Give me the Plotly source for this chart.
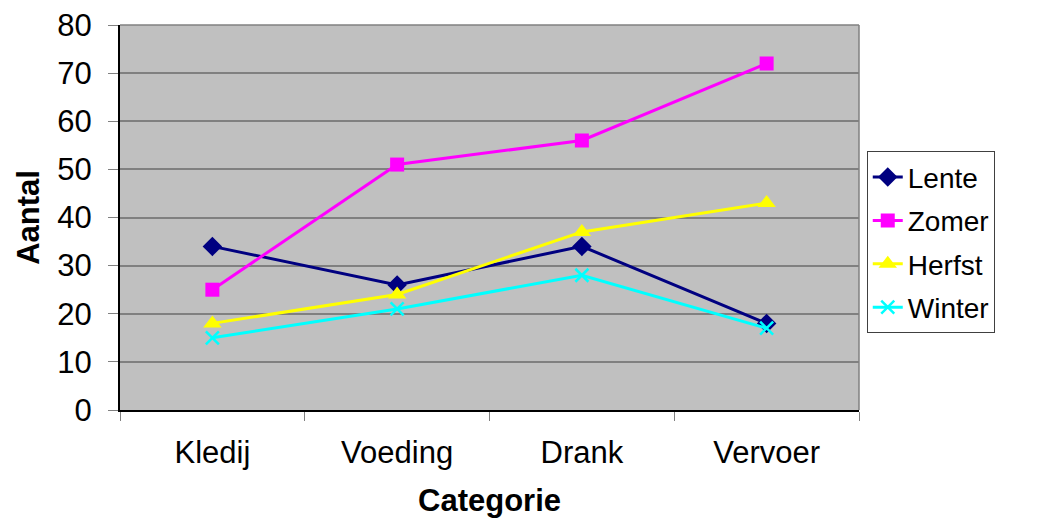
import plotly.graph_objects as go

categories = ["Kledij", "Voeding", "Drank", "Vervoer"]
lente = [34, 26, 34, 18]
zomer = [25, 51, 56, 72]
herfst = [18, 24, 37, 43]
winter = [15, 21, 28, 17]

series = [
    ("Lente", lente, "#000080", "diamond", 15),
    ("Zomer", zomer, "#FF00FF", "square", 14),
    ("Herfst", herfst, "#FFFF00", "triangle-up", 16),
    ("Winter", winter, "#00FFFF", "x-thin-open", 13),
]

FONT = "Liberation Sans, Arial, sans-serif"

fig = go.Figure()
for name, vals, color, symbol, size in series:
    marker = dict(symbol=symbol, size=size, color=color)
    if symbol.endswith("open"):
        marker["line"] = dict(color=color, width=2.5)
    fig.add_trace(go.Scatter(
        x=categories, y=vals, name=name, mode="lines+markers",
        legendgroup=name,
        line=dict(color=color, width=3), marker=marker,
    ))

fig.update_layout(
    width=1045, height=525,
    margin=dict(l=120, r=186, t=25, b=115, autoexpand=False),
    paper_bgcolor="white",
    plot_bgcolor="#C0C0C0",
    font=dict(family=FONT, size=31, color="black"),
    showlegend=True,
    legend=dict(
        x=1.0105, y=0.672, xanchor="left", yanchor="top",
        bgcolor="white", bordercolor="#404040", borderwidth=1,
        font=dict(size=28), tracegroupgap=4,
    ),
    xaxis=dict(
        type="category", range=[-0.5, 3.5], tickson="boundaries",
        ticks="outside", ticklen=9, tickcolor="#808080", tickwidth=1,
        showline=True, linecolor="black", linewidth=2, mirror=False,
        showgrid=False, zeroline=False, ticklabelstandoff=14,
        automargin=False,
        title=dict(text="<b>Categorie</b>", font=dict(size=31), standoff=20),
    ),
    yaxis=dict(
        range=[0, 80], dtick=10, tick0=0,
        ticks="outside", ticklen=10, tickcolor="#808080", tickwidth=1,
        showline=True, linecolor="black", linewidth=2,
        showgrid=True, gridcolor="#808080", gridwidth=1.5, zeroline=False,
        ticklabelstandoff=10, automargin=False,
        title=dict(text="<b>Aantal</b>", font=dict(size=31), standoff=8),
    ),
)

# thin gray frame on the top and right edges of the plot area
fig.add_shape(type="line", xref="paper", yref="paper", x0=0, x1=1, y0=1, y1=1,
              line=dict(color="#808080", width=1.5))
fig.add_shape(type="line", xref="paper", yref="paper", x0=1, x1=1, y0=0, y1=1,
              line=dict(color="#808080", width=1.5))

fig.write_html("out.html")
